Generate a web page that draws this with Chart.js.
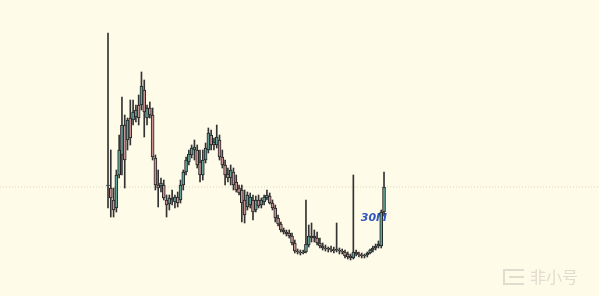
<!DOCTYPE html>
<html>
<head>
<meta charset="utf-8">
<script src="https://cdn.jsdelivr.net/npm/chart.js@4.4.1/dist/chart.umd.min.js"></script>
<style>
  html, body { margin: 0; padding: 0; background: #fefbe8; }
  #wrap { width: 599px; height: 296px; position: relative; }
</style>
</head>
<body>
<div id="wrap"><canvas id="chart"></canvas></div>
<script>
// candle values (oldest first)
const open = [
  110, 108, 96, 88, 121, 141, 171, 156, 178, 176,
  179, 191, 191, 206, 178, 188, 181, 138, 111, 110,
  111, 96, 92, 98, 94, 99, 96, 111, 124, 134,
  141, 146, 146, 134, 121, 136, 146, 161, 151, 151,
  156, 139, 131, 122, 118, 124, 114, 108, 106, 96,
  89, 91, 96, 86, 96, 91, 94, 98, 100, 93,
  88, 78, 72, 66, 64, 63, 60, 53, 45, 44,
  43, 44, 51, 60, 58, 58, 53, 50, 48, 47,
  47, 46, 46, 46, 45, 44, 42, 40, 38, 44,
  42, 41, 40, 41, 43, 46, 48, 50, 50, 84,
];
const high = [
  263, 146, 108, 126, 161, 199, 181, 178, 196, 196,
  191, 201, 224, 216, 191, 194, 188, 141, 126, 118,
  116, 101, 101, 106, 101, 104, 116, 126, 139, 146,
  151, 156, 151, 146, 146, 153, 168, 166, 158, 171,
  161, 146, 136, 128, 131, 128, 121, 111, 111, 106,
  104, 103, 101, 100, 101, 98, 101, 106, 103, 96,
  91, 81, 74, 68, 66, 66, 63, 56, 47, 46,
  46, 96, 71, 73, 66, 64, 58, 53, 51, 49,
  50, 49, 73, 48, 47, 46, 44, 42, 121, 46,
  44, 43, 42, 44, 47, 50, 52, 55, 86, 124,
];
const low = [
  88, 79, 79, 84, 118, 121, 108, 146, 151, 171,
  174, 171, 186, 159, 171, 178, 136, 106, 89, 104,
  96, 79, 86, 91, 88, 89, 93, 106, 121, 131,
  138, 136, 128, 114, 116, 133, 143, 146, 146, 148,
  136, 128, 111, 114, 111, 106, 104, 101, 74, 73,
  86, 88, 76, 84, 88, 88, 91, 96, 92, 86,
  74, 70, 64, 62, 60, 58, 51, 43, 42, 41,
  42, 43, 49, 54, 54, 51, 48, 46, 45, 44,
  44, 43, 44, 42, 42, 38, 37, 36, 37, 40,
  39, 38, 38, 39, 42, 44, 46, 48, 48, 82,
];
const close = [
  111, 98, 86, 121, 146, 171, 136, 176, 158, 184,
  186, 178, 210, 184, 188, 181, 139, 111, 108, 113,
  98, 91, 98, 96, 99, 93, 111, 124, 136, 142,
  148, 149, 131, 121, 136, 148, 163, 151, 154, 159,
  139, 131, 121, 118, 126, 111, 106, 103, 93, 81,
  101, 99, 84, 96, 90, 96, 99, 101, 93, 88,
  78, 72, 66, 64, 62, 60, 53, 45, 44, 43,
  44, 52, 60, 58, 60, 53, 50, 48, 47, 48,
  46, 45, 47, 45, 44, 40, 39, 38, 44, 42,
  41, 40, 41, 43, 46, 48, 50, 52, 84, 109,
];
const intervalLabel = '30M';
const watermark = '非小号';

const upColor = '#62a39a';
const downColor = '#c99393';
const edgeColor = '#222222';

const idx = close.map((c, i) => i);
const lastClose = close[close.length - 1];
const xMin = -38.74;
const xMax = 176.11;

const wicks = idx.map(i => ({ x: i, y: [low[i], high[i]] }));
const bodies = idx.map(i => ({ x: i, y: [open[i], close[i]] }));
const bodyColors = idx.map(i => (close[i] >= open[i] ? upColor : downColor));

// interval text sits under the candles, watermark on top
const labelPlugin = {
  id: 'labels',
  beforeDatasetsDraw(chart) {
    const { ctx, scales } = chart;
    ctx.save();
    ctx.font = 'italic bold 11px "DejaVu Sans", sans-serif';
    ctx.fillStyle = '#2f55c0';
    ctx.textAlign = 'right';
    ctx.textBaseline = 'middle';
    ctx.fillText(intervalLabel, scales.x.getPixelForValue(idx.length - 1) + 3, scales.y.getPixelForValue(78));
    ctx.restore();
  },
  afterDraw(chart) {
    const { ctx, width, height } = chart;
    ctx.save();
    ctx.fillStyle = '#e0dccf';
    // little logo
    const lx = width - 96, ly = height - 27;
    ctx.fillRect(lx, ly, 21, 2);
    ctx.fillRect(lx + 6, ly + 7, 15, 2);
    ctx.fillRect(lx, ly + 14, 21, 2);
    ctx.fillRect(lx, ly, 2, 16);
    ctx.font = '16px "Noto Sans CJK SC", sans-serif';
    ctx.textAlign = 'left';
    ctx.textBaseline = 'middle';
    ctx.fillText(watermark, width - 69, ly + 8);
    ctx.restore();
  },
};

new Chart(document.getElementById('chart'), {
  type: 'bar',
  data: {
    datasets: [
      {
        type: 'line',
        data: [{ x: xMin, y: lastClose }, { x: xMax, y: lastClose }],
        borderColor: '#dad5c0',
        borderWidth: 1,
        borderDash: [1, 2],
        pointRadius: 0,
        order: 3,
      },
      {
        data: wicks,
        backgroundColor: '#333333',
        barThickness: 1,
        grouped: false,
        order: 2,
      },
      {
        data: bodies,
        backgroundColor: bodyColors,
        borderColor: edgeColor,
        borderWidth: 1,
        borderSkipped: false,
        barThickness: 3,
        minBarLength: 1,
        grouped: false,
        order: 1,
      },
    ],
  },
  options: {
    responsive: true,
    maintainAspectRatio: false,
    animation: false,
    layout: { padding: 0 },
    plugins: {
      legend: { display: false },
      tooltip: { enabled: false },
    },
    scales: {
      x: { type: 'linear', min: xMin, max: xMax, offset: false, display: false },
      y: { min: 0, max: 296, display: false },
    },
  },
  plugins: [labelPlugin],
});
</script>
</body>
</html>
